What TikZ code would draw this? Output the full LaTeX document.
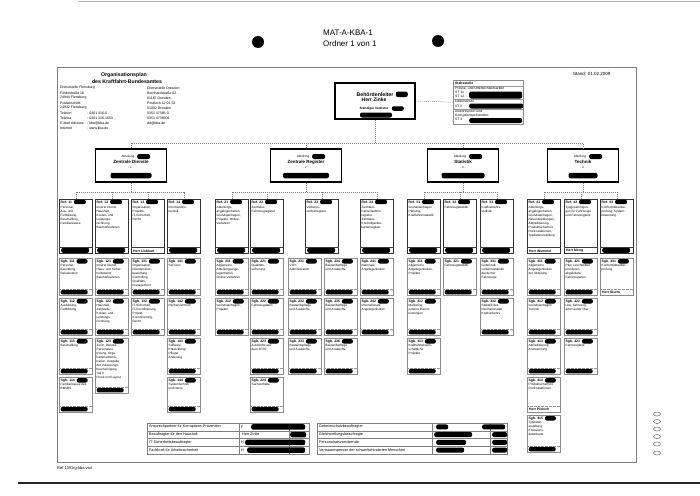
\documentclass[tikz,border=0pt]{standalone}
\usepackage{fontspec}
\setmainfont{Liberation Sans}
\usetikzlibrary{positioning}
\tikzset{
  frameline/.style={draw=black!50, line width=0.6pt},
  bus/.style={draw=black!50, dash pattern=on 1.2pt off 0.8pt, line width=0.4pt},
  abtbox/.style={draw, line width=1.3pt, minimum width=71pt, minimum height=33pt, inner sep=0pt},
  abtname/.style={font=\fontsize{4.5}{5}\selectfont\bfseries, inner sep=0pt},
  abtlabel/.style={font=\fontsize{3}{3.5}\selectfont, inner sep=0pt},
  refbox/.style={draw=black!80, line width=1pt, minimum width=33pt, minimum height=54pt, anchor=north west, inner sep=0pt},
  sgbbox/.style={draw=black!45, line width=0.45pt, minimum width=33pt, anchor=north west, inner sep=0pt},
  boxtitle/.style={font=\fontsize{3.4}{4}\selectfont\bfseries, anchor=north west, inner sep=0pt},
  boxtext/.style={font=\fontsize{3.1}{4}\selectfont, align=left, anchor=north west, inner sep=0pt},
  blob/.style={fill=black, rounded corners=2pt, inner sep=0pt, minimum height=4.5pt},
  smalltext/.style={font=\fontsize{3.5}{5}\selectfont, anchor=west, inner sep=0pt},
  tabtext/.style={font=\fontsize{3.7}{4}\selectfont, anchor=west, inner sep=0pt},
}
\begin{document}
\begin{tikzpicture}[x=1pt, y=-1pt]
\path[use as bounding box, fill=white] (0,0) rectangle (700,495);

% Kopf der Seite
\draw[black!30, line width=0.5pt] (78,1.5) -- (700,1.5);
\node[font=\fontsize{8}{9}\selectfont, anchor=west, inner sep=0pt] (kopf) at (323,33) {MAT-A-KBA-1};
\node[font=\fontsize{8}{9}\selectfont, anchor=west, inner sep=0pt] (ordner) at (323,43.5) {Ordner 1 von 1};
\fill (258,42) circle[radius=6pt];
\fill (438,41) circle[radius=6pt];
\draw[frameline] (57,67) rectangle (636,462);
\node[font=\fontsize{4.5}{5}\selectfont, anchor=west, inner sep=0pt] (stand) at (573,74) {Stand: 01.02.2009};

% Titel und Anschriften
\node[font=\fontsize{5.2}{6}\selectfont\bfseries, inner sep=0pt] (titel) at (124,75.5) {Organisationsplan};
\node[font=\fontsize{5.2}{6}\selectfont\bfseries, inner sep=0pt] (titel2) at (127,81.5) {des Kraftfahrt-Bundesamtes};
\foreach \y/\txt [count=\i] in {88/Dienststelle Flensburg, 93/Fördestraße 16, 98/24944 Flensburg,
    103/Postanschrift:, 108/24932 Flensburg, 113/Telefon, 118/Telefax, 123/E-Mail Adresse, 128/Internet}
  \node[smalltext] (fl\i) at (60,\y) {\txt};
\foreach \y/\txt [count=\i] in {113/0461 316-0, 118/0461 316-1650/1495, 123/kba@kba.de, 128/www.kba.de}
  \node[smalltext] (flw\i) at (87,\y) {: \txt};
\foreach \y/\txt [count=\i] in {88/Dienststelle Dresden, 93/Bernhardstraße 62, 98/01187 Dresden,
    103/Postfach 12 01 53, 108/01002 Dresden, 113/0351 47385-0, 118/0351 4738506, 123/dd@kba.de}
  \node[smalltext] (dd\i) at (147,\y) {\txt};

% Behoerdenleitung
\node[draw, line width=1.4pt, minimum width=80pt, minimum height=36pt, inner sep=0pt] (bl) at (375,101) {};
\node[font=\fontsize{5.2}{6}\selectfont\bfseries, inner sep=0pt] (blt) at (375,94.3) {Behördenleiter};
\node[blob, minimum width=12pt, minimum height=5.5pt, right=2pt of blt] (blb) {};
\node[font=\fontsize{5}{6}\selectfont\bfseries, inner sep=0pt] (bln) at (374,99.8) {Herr Zinke};
\node[font=\fontsize{3.2}{4}\selectfont\bfseries, inner sep=0pt] (blv) at (374,108.5) {Ständiger Vertreter};
\node[blob, minimum width=12pt, right=3pt of blv] (blvb) {};
\node[blob, minimum width=32pt, minimum height=5pt] (blvn) at (376,115) {};

% Stabsstelle
\node[draw=black!45, line width=0.5pt, minimum width=70pt, minimum height=44pt, anchor=north west, inner sep=0pt] (stab) at (453,80) {};
\node[font=\fontsize{3.4}{4}\selectfont\bfseries, anchor=west, inner sep=0pt] (stabt) at (455,83) {Stabsstelle};
\foreach \y/\txt [count=\i] in {88.5/Presse- und Öffentlichkeitsarbeit, 92.8/ST 11, 96.8/ST 12, 101.7/Datenschutz,
    106/ST 2, 111.5/Innenrevision und, 115.6/Korruptionsprävention, 119.8/ST 3}
  \node[font=\fontsize{3.4}{4}\selectfont, anchor=west, inner sep=0pt] (stab\i) at (455,\y) {\txt};
\foreach \y in {86,99.5,109.5}
  \draw[black!40, line width=0.4pt] (453,\y) -- (523,\y);
\node[blob, minimum width=53pt, minimum height=7pt, anchor=west] (stabb1) at (469,95) {};
\node[blob, minimum width=54pt, minimum height=5pt, anchor=west] (stabb2) at (469,106) {};
\node[blob, minimum width=53pt, minimum height=5pt, anchor=west] (stabb3) at (469,120.5) {};

% Abteilungen
\foreach \x/\nr/\txt/\bw in {131/1/Zentrale Dienste/41, 306/2/Zentrale Register/46, 463/3/Statistik/43, 583/4/Technik/29}{
  \node[abtbox] (abt\nr) at (\x,165.5) {};
  \node[abtlabel] (abta\nr) at (\x-3,156.5) {Abteilung};
  \node[blob, minimum width=13pt, minimum height=5pt, right=2.5pt of abta\nr] (abtb\nr) {};
  \node[abtname] (abtt\nr) at (\x,162.3) {\txt};
  \node[abtlabel] (abtn\nr) at (\x,167.5) {- \nr\ -};
  \node[blob, minimum width=\bw pt, minimum height=5.5pt] (abtc\nr) at (\x,175.5) {};
}

% Referate
\foreach \x/\nr/\txt in {
  59/11/{Personal,\\Aus- und\\Fortbildung,\\Beschaffung,\\Familienkasse},
  95/12/{Innerer Dienst,\\Haushalt,\\Kosten- und\\Leistungs-\\rechnung,\\Baumaßnahmen},
  131/13/{Organisation,\\Projekte,\\IT-Sicherheit,\\Recht},
  167/14/{Informations-\\technik},
  215/21/{Abteilungs-\\angelegenheiten,\\Grundsatzfragen,\\Projekte, Online-\\Verfahren},
  250/22/{Zentrales\\Fahrzeugregister},
  305/23/{Verkehrs-\\zentralregister},
  360/24/{Zentrales\\Fahrerlaubnis-\\register,\\Zentrales\\Kontrollgeräte-\\kartenregister},
  407/31/{Grundsatzfragen\\Planung,\\Kraftfahrerstatistik},
  443/32/{Fahrzeugstatistik},
  480/33/{Kraftverkehrs-\\statistik},
  527/41/{Abteilungs-\\angelegenheiten,\\Grundsatzfragen,\\Neuentwicklungen,\\Akkreditierung,\\Produktsicherheit,\\Rückrufaktionen,\\Typdatenerstellung},
  564/42/{Typgenehmigun-\\gen für Fahrzeuge\\und Fahrzeugteile},
  600/43/{Konformitätsüber-\\prüfung, System-\\bewertung}}{
  \node[refbox] (ref\nr) at (\x,199) {};
  \node[boxtitle] (reft\nr) at (\x+1.5,200.5) {Ref. \nr};
  \node[blob, minimum width=12pt, right=1.5pt of reft\nr] (refb\nr) {};
  \node[boxtext] (refx\nr) at (\x+1.5,206) {\txt};
  \draw[black!75, line width=0.5pt] (ref\nr.south west) ++(0,-7) -- ++(33,0);
}
\foreach \nr in {11,12,14,21,22,23,24,31,32,33,43}
  \node[blob, minimum width=28pt, minimum height=5pt, anchor=south west] (refn\nr) at ([shift={(2pt,1pt)}]ref\nr.south west) {};
\node[boxtitle, anchor=south west] (refn13) at ([shift={(2pt,1.6pt)}]ref13.south west) {Herr Liebhart};
\node[boxtitle, anchor=south west] (refn41) at ([shift={(2pt,1.6pt)}]ref41.south west) {Herr Wummel};
\node[boxtitle, anchor=south west] (refn42) at ([shift={(2pt,1.6pt)}]ref42.south west) {Herr Moog};

% Sachgebiete
\foreach \x/\y/\hgt/\nr/\txt in {
  59/258/37/111/{Personal,\\Besoldung,\\Reisekosten},
  59/298/37/112/{Ausbildung,\\Fortbildung},
  59/338/36/113/{Beschaffung},
  59/377/35/114/{Familienkasse des\\BMVBS},
  95/258/37/121/{Innerer Dienst,\\Haus- und Sicher-\\heitsdienst,\\Baumaßnahmen},
  95/298/37/122/{Haushalt,\\Zahlstelle,\\Kosten- und\\Leistungs-\\rechnung},
  95/338/55/123/{Zentr. Dienste:\\Personalver-\\tretung, Orga-\\kartenadminis-\\tration, Ausgabe\\der Zulassungs-\\bescheinigung\\Teil II\\Druck und Layout},
  131/258/37/131/{Organisation,\\Dienstposten-\\bewertung,\\Controlling,\\Qualitäts-\\management},
  131/298/37/132/{IT-Sicherheit,\\IT-Koordinierung,\\Projekt-\\Koordinierung,\\Recht},
  167/258/37/141/{Services},
  167/298/37/142/{Rechenzentrum},
  167/338/36/143/{Software-\\Entwicklung/\\Pflege/\\Änderung},
  167/377/35/144/{Systemtechnik\\und Netze},
  215/258/37/211/{Allgemeine\\Abteilungsange-\\legenheiten,\\Online-Verfahren},
  215/298/37/212/{Grundsatzfragen,\\Projekte},
  250/258/37/221/{Qualitäts-\\sicherung},
  250/298/37/222/{Fahrzeugdaten},
  250/338/36/223/{Auskünfte aus\\dem ZFZR},
  250/377/35/224/{Sachverhalte},
  288/258/37/231/{VZR-\\Administration},
  288/298/37/232/{Bestandspflege\\und Auskünfte},
  288/338/36/233/{Bestandspflege\\und Auskünfte},
  324/258/37/234/{Bestandspflege\\und Auskünfte},
  324/298/37/235/{Bestandspflege\\und Auskünfte},
  324/338/36/236/{Bestandspflege\\und Auskünfte},
  360/258/37/241/{Nationale\\Angelegenheiten},
  360/298/37/242/{Internationale\\Angelegenheiten},
  407/258/37/311/{Allgemeine\\Angelegenheiten,\\Projekte},
  407/298/37/312/{Marketing,\\externe Dienst-\\leistungen},
  407/338/36/313/{Kraftfahrtwissen-\\schaftliche\\Projekte},
  443/258/37/321/{Fahrzeugstatistik},
  480/258/37/331/{Güterkraft-\\verkehrsstatistik\\deutscher\\Fahrzeuge},
  480/298/37/332/{Statistik des\\Internationalen\\Kraftverkehrs},
  527/258/37/411/{Allgemeine\\Angelegenheiten\\der Abteilung},
  527/298/37/412/{Grundsatzfragen\\Technik},
  527/338/36/413/{Akkreditierung\\Anerkennung},
  527/377/35/414/{Produktsicherheit,\\Rückrufaktionen},
  527/415/37/415/{Typdaten-\\erstellung,\\Emissions-\\datenbank},
  564/258/37/421/{Pkw, Leuchtmittel\\und deren\\abgeleitete\\Fahrzeugarten},
  564/298/37/422/{Lkw, Fahrzeug-\\arten außer Pkw},
  564/338/36/423/{Fahrzeugteile},
  600/258/37/431/{Konformitätsüber-\\prüfung}}{
  \node[sgbbox, minimum height=\hgt pt] (sgb\nr) at (\x,\y) {};
  \node[boxtitle] (sgbt\nr) at (\x+1.5,\y+1.5) {Sgb. \nr};
  \node[blob, minimum width=11pt, right=1.5pt of sgbt\nr] (sgbb\nr) {};
  \node[boxtext] (sgbx\nr) at (\x+1.5,\y+6.5) {\txt};
  \draw[black!40, densely dotted, line width=0.35pt] ([yshift=6pt]sgb\nr.south west) -- ([yshift=6pt]sgb\nr.south east);
}
\foreach \nr in {111,112,113,114,121,122,123,131,132,141,142,143,144,211,212,221,222,223,224,
    231,232,233,234,235,236,241,242,311,312,313,321,331,332,411,412,413,415,421,422,423}
  \node[blob, minimum width=27pt, anchor=south west] (sgbn\nr) at ([shift={(1.5pt,0.8pt)}]sgb\nr.south west) {};
\node[boxtitle, anchor=south west] (sgbn414) at ([shift={(2pt,1.5pt)}]sgb414.south west) {Herr Pieloch};
\node[boxtitle, anchor=south west] (sgbn431) at ([shift={(2pt,1.5pt)}]sgb431.south west) {Herr Sturm};

% Verbindungslinien
\coordinate (bus) at (0,143);
\coordinate (sub) at (0,192);
\draw[bus] (bl.east) -- (stab.west);
\draw[bus] (bl.south) -- (bl.south |- bus);
\draw[bus] (abt1.north) -- (abt1.north |- bus) -- (abt4.north |- bus) -- (abt4.north);
\foreach \nr in {2,3}
  \draw[bus] (abt\nr.north) -- (abt\nr.north |- bus);
\foreach \nr in {1,...,4}
  \draw[bus] (abt\nr.south) -- (abt\nr.south |- sub);
\foreach \a/\b in {11/14, 21/24, 31/33, 41/43}
  \draw[bus] (ref\a.north) -- (ref\a.north |- sub) -- (ref\b.north |- sub) -- (ref\b.north);
\foreach \nr in {12,13,22,23,32,42}
  \draw[bus] (ref\nr.north) -- (ref\nr.north |- sub);

% Beauftragte
\draw[black!50, line width=0.5pt] (147,423) rectangle (309,454);
\draw[black!50, line width=0.5pt] (317,423) rectangle (507,454);
\foreach \y in {430.75,438.5,446.25}{
  \draw[black!50, line width=0.4pt] (147,\y) -- (309,\y);
  \draw[black!50, line width=0.4pt] (317,\y) -- (507,\y);
}
\foreach \x in {239,289,432,490}
  \draw[black!50, line width=0.4pt] (\x,423) -- (\x,454);
\foreach \y/\txt [count=\i] in {426.9/Ansprechpartner für Korruptions-Prävention, 434.6/Beauftragter für den Haushalt,
    442.4/IT-Sicherheitsbeauftragter, 450.1/Fachkraft für Arbeitssicherheit}
  \node[tabtext] (bl\i) at (149,\y) {\txt};
\foreach \y/\txt [count=\i] in {426.9/Geheimschutzbeauftragter, 434.6/Gleichstellungsbeauftragte,
    442.4/Personalratsvorsitzende, 450.1/Vertrauensperson der schwerbehinderten Menschen}
  \node[tabtext] (br\i) at (319,\y) {\txt};
\node[tabtext] (bz1) at (241,426.9) {F};
\node[tabtext] (bz2) at (242,434.6) {Herr Zinke};
\node[tabtext] (bz3) at (241,442.4) {H};
\node[tabtext] (bz4) at (241,450.1) {H};
\foreach \y/\xa/\wa [count=\i] in {426.9/251/54, 442.4/245/60, 450.1/247/58}
  \node[blob, minimum width=\wa pt, minimum height=5.5pt, anchor=west] (bzb\i) at (\xa,\y) {};
\node[blob, minimum width=16pt, minimum height=5.5pt, anchor=west] (bzb4) at (290,434.6) {};
\foreach \y/\xa/\wa [count=\i] in {426.9/436/12, 434.6/434/38, 442.4/436/30, 450.1/436/28}
  \node[blob, minimum width=\wa pt, minimum height=5pt, anchor=west] (brb\i) at (\xa,\y) {};
\foreach \y/\xa/\wa [count=\i] in {426.9/482/23, 434.6/492/15, 442.4/492/15, 450.1/492/15}
  \node[blob, minimum width=\wa pt, minimum height=5pt, anchor=west] (brc\i) at (\xa,\y) {};

% Fuss der Seite
\node[font=\fontsize{4}{5}\selectfont, anchor=west, inner sep=0pt] (datei) at (57,468) {Ref 13/Org-kba.vsd};
\draw[black!85, line width=1.5pt] (18,483) -- (700,483);
\foreach \y in {414,421.5,429,436.5,444,453}
  \draw[black!60, line width=0.5pt] (657,\y) ellipse[x radius=3.5pt, y radius=2pt];
\end{tikzpicture}
\end{document}
